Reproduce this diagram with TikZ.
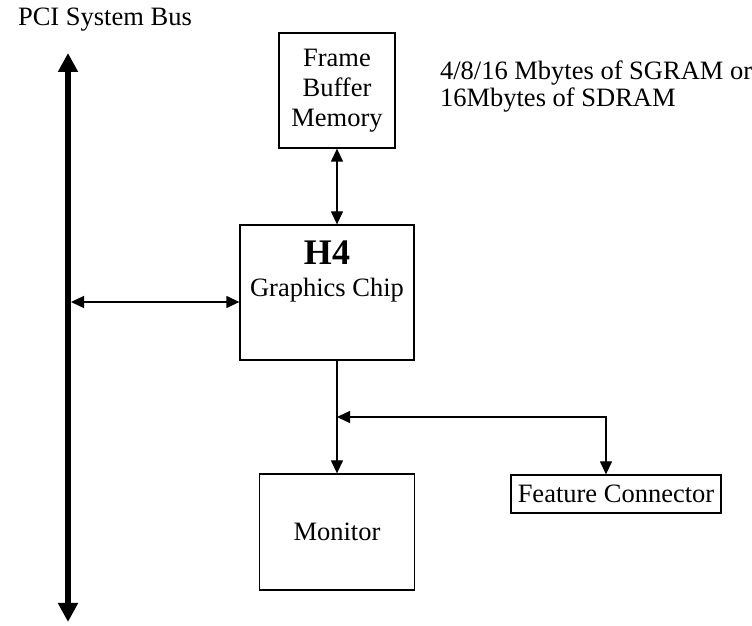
\documentclass[tikz,border=0pt]{standalone}
\usepackage{fontspec}
\setmainfont{Liberation Serif}
\usetikzlibrary{arrows.meta, positioning}

\begin{document}
\begin{tikzpicture}[
    x=0.5pt, y=-0.5pt,
    every node/.style={font=\fontsize{13.25pt}{15pt}\selectfont},
    box/.style={rectangle, draw, line width=0.65pt, align=center, inner sep=0pt},
    link/.style={{Triangle[length=6.5pt, width=6pt]}-{Triangle[length=6.5pt, width=6pt]}, line width=0.65pt},
    feed/.style={-{Triangle[length=6.5pt, width=6pt]}, line width=0.65pt},
    bus/.style={{Triangle[length=9.5pt, width=9.5pt]}-{Triangle[length=9.5pt, width=9.5pt]}, line width=3pt},
    note/.style={anchor=west, align=left}
]

\useasboundingbox (0,0) rectangle (752,626);

% System bus
\node[note] (buslabel) at (11,20) {PCI System Bus};
\coordinate (bustop) at (68,53);
\coordinate (busbot) at (68,622);
\coordinate (busjoin) at (71,302);

% Memory
\node[box, minimum width=58pt, minimum height=57.5pt] (fbm) at (337,90.5) {Frame\\Buffer\\Memory};
\node[note, font=\fontsize{13.25pt}{13.5pt}\selectfont] (memsize) at (433,86.5) {4/8/16 Mbytes of SGRAM or\\16Mbytes of SDRAM};

% Graphics chip
\node[box, minimum width=87pt, minimum height=67.5pt] (h4) at (327,292.5) {};
\node[font=\fontsize{18pt}{18pt}\selectfont\bfseries] (h4name) at (327,253) {H4};
\node (h4desc) at (327,290) {Graphics Chip};

% Outputs
\node[box, minimum width=77.5pt, minimum height=58pt] (monitor) at (337,532) {Monitor};
\node[box, minimum width=105pt, minimum height=19pt] (feature) at (616,494) {Feature Connector};
\coordinate (split) at (337,417);
\coordinate (tap) at (606,417);

% Arrows
\draw[bus] (bustop) -- (busbot);
\draw[link] (fbm) -- (h4.north -| fbm);
\draw[link] (busjoin) -- (h4.west |- busjoin);
\draw[feed] (h4.south -| split) -- (monitor.north -| split);
\draw[link] (split) -| (feature.north -| tap);

\end{tikzpicture}
\end{document}
